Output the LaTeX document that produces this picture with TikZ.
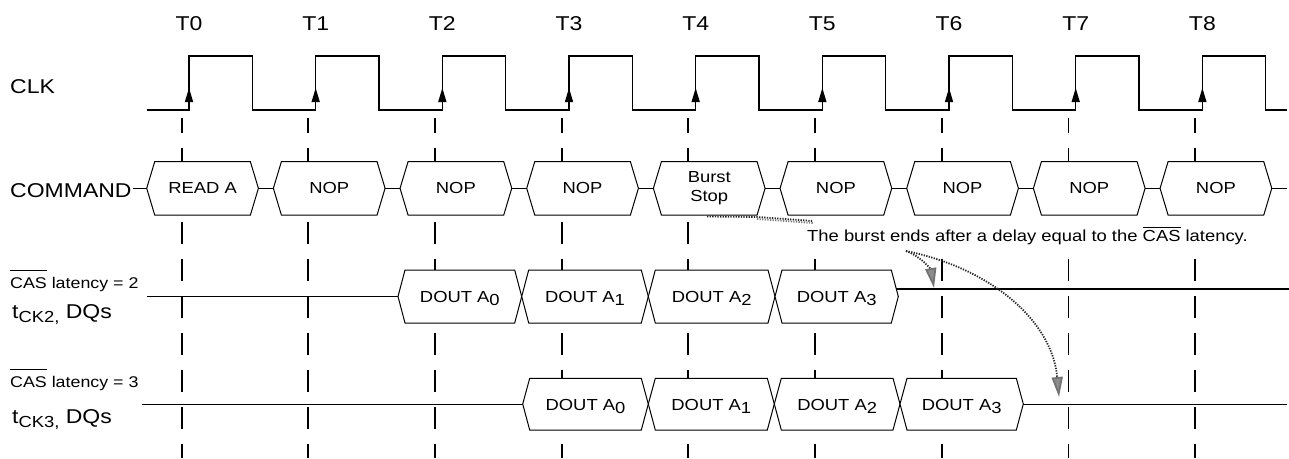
\documentclass[tikz,border=0pt]{standalone}
\usepackage{fontspec}
\setmainfont{Liberation Sans}[FakeStretch=1.15]
\usetikzlibrary{arrows.meta}
\newcommand\barred[2][3pt]{\vbox{\hrule height 0.9pt\kern#1\hbox{#2}}}
\newcommand\subd[1]{\raisebox{-3.5pt}{#1}}
\begin{document}
\begin{tikzpicture}[x=1pt,y=-1pt,
  clk/.style={line width=1.4pt, line join=miter},
  tdash/.style={line width=1.8pt, dash pattern=on 22pt off 15pt, dash phase=7pt},
  sigbox/.style={draw, line width=1pt, fill=white},
  sig/.style={line width=1pt},
  bigtxt/.style={font=\fontsize{20}{24}\selectfont, inner sep=0pt},
  boxtxt/.style={font=\fontsize{16}{19}\selectfont, inner sep=0pt, align=center},
  labtxt/.style={font=\fontsize{15.5}{18}\selectfont, inner sep=0pt},
  dotline/.style={draw=black!85, line width=1.8pt, dash pattern=on 1.3pt off 1.3pt},
  dotarrow/.style={dotline, -{Triangle[length=20pt,width=11pt,color=black!55,fill=black!45]}}
]
\useasboundingbox (0,0) rectangle (1289,458);

% dashed time markers
\foreach \k in {0,...,8}{
  \draw[tdash] ({181.7+\k*126.67},118) -- ({181.7+\k*126.67},458);
}

% time labels
\foreach \k in {0,...,8}{
  \node[bigtxt, anchor=base] (t\k) at ({189+\k*126.67},30) {T\k};
}

% clock
\draw[clk] (147,110) \foreach \k in {0,...,8}{ -- ({189+\k*126.67},110) -- ({189+\k*126.67},56) -- ({252.3+\k*126.67},56) -- ({252.3+\k*126.67},110)} -- (1287,110);
\foreach \k in {0,...,8}{
  \fill ({184.8+\k*126.67},102) -- ({189+\k*126.67},88) -- ({193.2+\k*126.67},102) -- cycle;
}

% row labels
\node[bigtxt, anchor=base west] (clklab) at (10,93) {CLK};
\node[bigtxt, anchor=base west] (cmdlab) at (10,197) {COMMAND};
\node[labtxt, anchor=base west] (cas2) at (10,288) {\barred[6pt]{CAS} latency = 2};
\node[bigtxt, anchor=base west] (tck2) at (12,318) {t\raisebox{-4pt}{\fontsize{16}{19}\selectfont CK2,} DQs};
\node[labtxt, anchor=base west] (cas3) at (10,387) {\barred[6pt]{CAS} latency = 3};
\node[bigtxt, anchor=base west] (tck3) at (12,423) {t\raisebox{-4pt}{\fontsize{16}{19}\selectfont CK3,} DQs};

% command row
\draw[sig] (133,188.3) -- (146.7,188.3);
\foreach \k/\t in {0/READ A,1/NOP,2/NOP,3/NOP,4/{Burst\\Stop},5/NOP,6/NOP,7/NOP,8/NOP}{
  \pgfmathsetmacro\L{146.7+\k*126.67}
  \pgfmathsetmacro\R{\L+111.7}
  \filldraw[sigbox] (\L,188.3) -- (\L+8,161.7) -- (\R-8,161.7) -- (\R,188.3) -- (\R-8,215) -- (\L+8,215) -- cycle;
  \node[boxtxt] (cmd\k) at ({(\L+\R)/2},188.3) {\t};
}
\foreach \k in {0,...,7}{
  \draw[sig] ({258.4+\k*126.67},188.3) -- ({273.4+\k*126.67},188.3);
}
\draw[sig] (1271.6,188.3) -- (1287,188.3);

% CAS latency 2 data
\draw[sig] (146.7,296.5) -- (398,296.5);
\foreach \a/\b/\i in {398/521.7/0, 521.7/648.3/1, 648.3/775/2, 775/898.3/3}{
  \filldraw[sigbox] (\a,296.5) -- (\a+7,270) -- (\b-7,270) -- (\b,296.5) -- (\b-7,323) -- (\a+7,323) -- cycle;
  \node[boxtxt, anchor=base] (da\i) at ({(\a+\b)/2},302) {DOUT A\subd{\i}};
}
\draw[line width=1.8pt] (896.3,289) -- (1289,289);

% CAS latency 3 data
\draw[sig] (141.7,404) -- (522.7,404);
\foreach \a/\b/\i in {522.7/648.3/0, 648.3/774.3/1, 774.3/900/2, 900/1023.3/3}{
  \filldraw[sigbox] (\a,404) -- (\a+7,378.3) -- (\b-7,378.3) -- (\b,404) -- (\b-7,430) -- (\a+7,430) -- cycle;
  \node[boxtxt, anchor=base] (db\i) at ({(\a+\b)/2},410) {DOUT A\subd{\i}};
}
\draw[sig] (1023.3,404) -- (1287,404);

% annotation
\node[boxtxt, anchor=base west, fill=white, inner ysep=7pt] (note) at (807,241.7) {The burst ends after a delay equal to the \barred[2.5pt]{CAS} latency.};
\coordinate (lead0) at (707,216.5);
\coordinate (lead1) at (813,221);
\draw[dotline] (lead0) -- (757,217) -- (lead1);
\draw[dotline, draw=black!50] (757,219) -- (813,223);
\coordinate (arrs) at (906,251);
\coordinate (end2) at (934,288);
\coordinate (end3) at (1059,397);
\draw[dotarrow] (arrs) .. controls (922,257) and (931,270) .. (end2);
\draw[dotarrow] (arrs) .. controls (990,268) and (1052,320) .. (end3);
\end{tikzpicture}
\end{document}
